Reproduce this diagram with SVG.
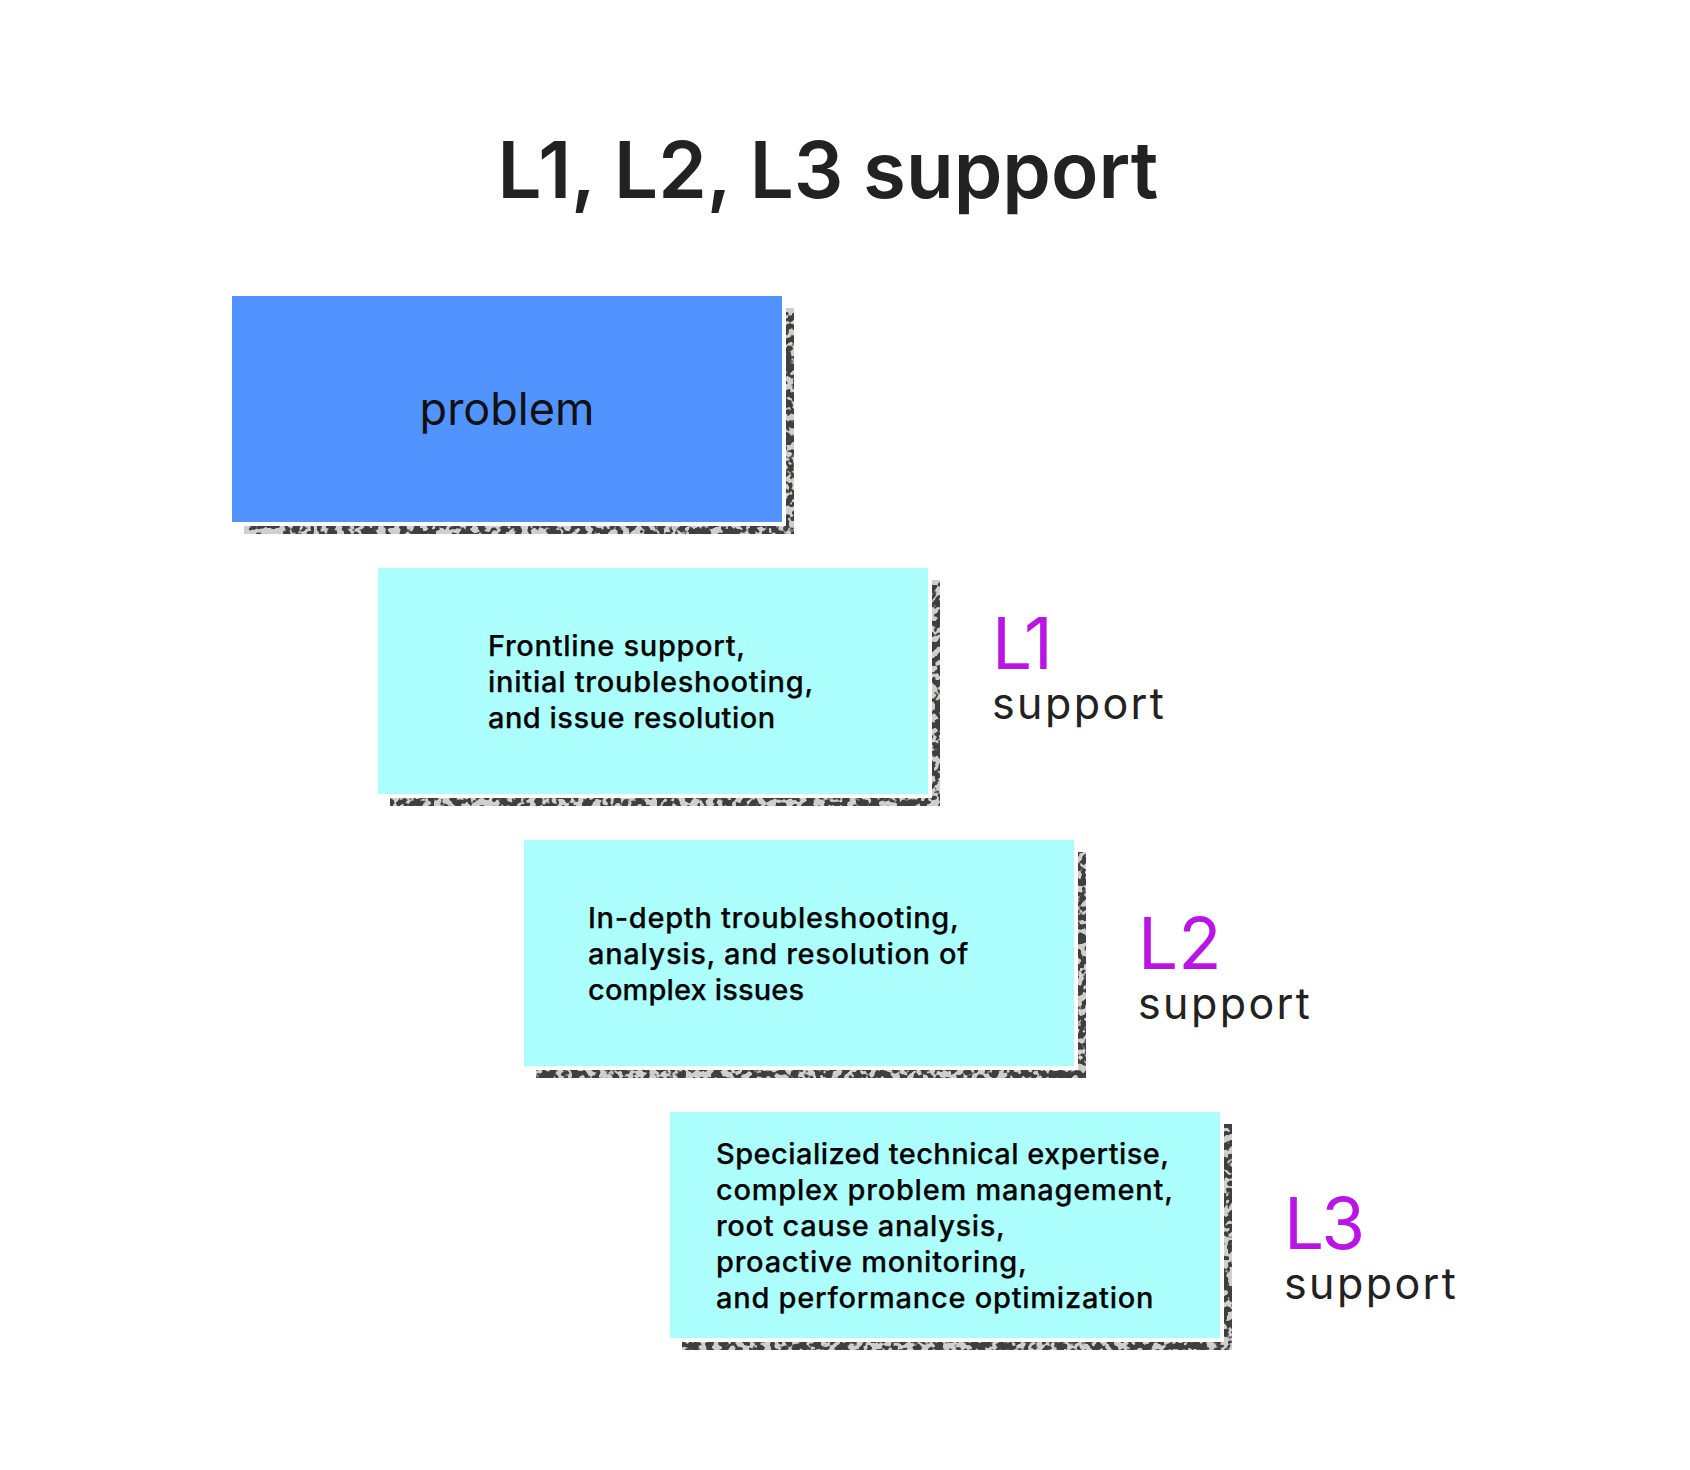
<svg xmlns="http://www.w3.org/2000/svg" width="1690" height="1470" viewBox="0 0 1690 1470">
<defs>
<style>
text{font-family:"Inter","Liberation Sans",sans-serif}
.title{font-size:78px;font-weight:600;fill:#222222;text-anchor:middle}
.body{font-size:29px;font-weight:500;fill:#050505;letter-spacing:.75px;stroke:#050505;stroke-width:.25px}
.lvl{font-size:71px;font-weight:400;fill:#b916e6}
.sup{font-size:43px;font-weight:400;fill:#222222;letter-spacing:2.4px}
.shadow{fill:#3f3f3f;filter:url(#grain)}
.gap{fill:#ffffff}
.teal{fill:#adfffd}
</style>
<filter id="grain" x="0" y="0" width="100%" height="100%" color-interpolation-filters="sRGB">
<feTurbulence type="fractalNoise" baseFrequency="0.14" numOctaves="2" seed="11" result="n"/>
<feColorMatrix in="n" type="matrix" values="0 0 0 0 0  0 0 0 0 0  0 0 0 0 0  2.2 0 0 0 -0.62"/>
<feComponentTransfer result="m"><feFuncA type="linear" slope="6" intercept="-2.6"/></feComponentTransfer>
<feFlood flood-color="#cfcfcb"/>
<feComposite in2="m" operator="in" result="light"/>
<feMerge result="t"><feMergeNode in="SourceGraphic"/><feMergeNode in="light"/></feMerge>
<feComposite in="t" in2="SourceAlpha" operator="in"/>
</filter>
</defs>
<rect width="1690" height="1470" fill="#ffffff"/>
<g id="title"><text class="title" x="828" y="198">L1, L2, L3 support</text></g>
<g id="connectors"></g>
<g id="problem">
<rect class="shadow" x="244" y="308" width="550" height="226"/>
<rect class="gap" x="232" y="296" width="554" height="230"/>
<rect x="232" y="296" width="550" height="226" fill="#5193ff"/>
<text x="507" y="425" font-size="45" fill="#111111" text-anchor="middle">problem</text>
</g>
<g id="l1">
<rect class="shadow" x="390" y="580" width="550" height="226"/>
<rect class="gap" x="378" y="568" width="554" height="230"/>
<rect class="teal" x="378" y="568" width="550" height="226"/>
<text class="body"><tspan x="488" y="656" style="letter-spacing:.68px">Frontline support,</tspan><tspan x="488" y="692">initial troubleshooting,</tspan><tspan x="488" y="728" style="letter-spacing:.48px">and issue resolution</tspan></text>
<text class="lvl" x="992" y="669" style="letter-spacing:-5px">L1</text>
<text class="sup" x="992" y="719">support</text>
</g>
<g id="l2">
<rect class="shadow" x="536" y="852" width="550" height="226"/>
<rect class="gap" x="524" y="840" width="554" height="230"/>
<rect class="teal" x="524" y="840" width="550" height="226"/>
<text class="body"><tspan x="588" y="928" style="letter-spacing:.7px">In-depth troubleshooting,</tspan><tspan x="588" y="964" style="letter-spacing:.67px">analysis, and resolution of</tspan><tspan x="588" y="1000" style="letter-spacing:.15px">complex issues</tspan></text>
<text class="lvl" x="1138" y="969">L2</text>
<text class="sup" x="1138" y="1019">support</text>
</g>
<g id="l3">
<rect class="shadow" x="682" y="1124" width="550" height="226"/>
<rect class="gap" x="670" y="1112" width="554" height="230"/>
<rect class="teal" x="670" y="1112" width="550" height="226"/>
<text class="body"><tspan x="716" y="1164" style="letter-spacing:.45px">Specialized technical expertise,</tspan><tspan x="716" y="1200">complex problem management,</tspan><tspan x="716" y="1236" style="letter-spacing:.65px">root cause analysis,</tspan><tspan x="716" y="1272">proactive monitoring,</tspan><tspan x="716" y="1308">and performance optimization</tspan></text>
<text class="lvl" x="1284" y="1249" style="letter-spacing:-3px">L3</text>
<text class="sup" x="1284" y="1299">support</text>
</g>
</svg>
